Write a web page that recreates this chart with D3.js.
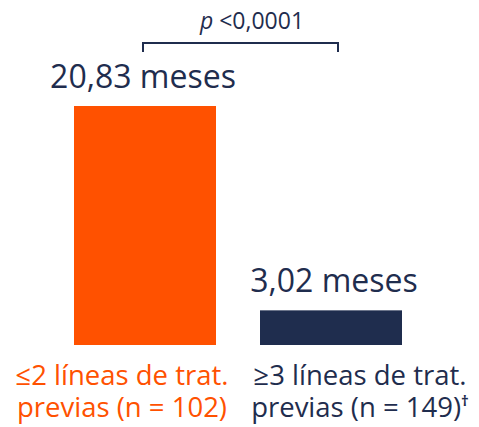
<!DOCTYPE html>
<html>
<head>
<meta charset="utf-8">
<script src="https://cdn.jsdelivr.net/npm/d3@7"></script>
<style>
  html, body { margin: 0; padding: 0; background: #fff; }
</style>
</head>
<body>
<div id="chart"></div>
<script>
// data
const groups = ["le2", "ge3"];
const values = [20.83, 3.02];
const valueLabels = ["20,83 meses", "3,02 meses"];
const catLine1 = ["\u22642 l\u00edneas de trat.", "\u22653 l\u00edneas de trat."];
const catLine2 = ["previas (n = 102)", "previas (n = 149)"];
const catSuffix = ["", "\u2020"];
const pLabel = "<0,0001";

const width = 479, height = 427;
const orange = "#ff5100", navy = "#1f2d4e";
const colors = [orange, navy];
const font = "'Open Sans', sans-serif";

const svg = d3.select("#chart").append("svg")
    .attr("width", width)
    .attr("height", height)
    .attr("font-family", font);

const x = d3.scaleBand()
    .domain(groups)
    .range([74, 402])
    .paddingInner(44 / 186)
    .paddingOuter(0);

const y = d3.scaleLinear()
    .domain([0, 20.83])
    .range([345, 106]);

// bars
svg.append("g")
  .selectAll("rect")
  .data(values)
  .join("rect")
    .attr("x", (d, i) => x(groups[i]))
    .attr("y", d => y(d))
    .attr("width", x.bandwidth())
    .attr("height", d => y(0) - y(d))
    .attr("fill", (d, i) => colors[i]);

// value labels
const valShift = [-2, 3];
svg.append("g")
  .selectAll("text")
  .data(values)
  .join("text")
    .attr("x", (d, i) => x(groups[i]) + x.bandwidth() / 2 + valShift[i])
    .attr("y", d => y(d) - 18)
    .attr("text-anchor", "middle")
    .attr("font-size", 32)
    .attr("fill", navy)
    .text((d, i) => valueLabels[i]);

// category labels (offset from bar centre like the original), one text per line
const catShift = [-23, 29];
const cx = (d, i) => x(d) + x.bandwidth() / 2 + catShift[i];

svg.append("g")
  .selectAll("text")
  .data(groups)
  .join("text")
    .attr("x", cx)
    .attr("y", 385)
    .attr("text-anchor", "middle")
    .attr("font-size", 27.5)
    .attr("fill", (d, i) => colors[i])
    .text((d, i) => catLine1[i]);

const line2 = svg.append("g")
  .selectAll("text")
  .data(groups)
  .join("text")
    .attr("x", cx)
    .attr("y", 417)
    .attr("text-anchor", "middle")
    .attr("font-size", 27.5)
    .attr("fill", (d, i) => colors[i]);
line2.append("tspan")
    .text((d, i) => catLine2[i]);
line2.append("tspan")
    .attr("dy", -11)
    .attr("font-size", 15)
    .attr("font-weight", "bold")
    .text((d, i) => catSuffix[i]);

// significance bracket
const bx0 = 143, bx1 = 338, by = 43;
svg.append("path")
    .attr("d", `M${bx0},${by + 9}V${by}H${bx1}V${by + 9}`)
    .attr("fill", "none")
    .attr("stroke", navy)
    .attr("stroke-width", 2);

const pt = svg.append("text")
    .attr("x", 252)
    .attr("y", 29)
    .attr("text-anchor", "middle")
    .attr("font-size", 23)
    .attr("fill", navy);
pt.append("tspan").attr("font-style", "italic").text("p");
pt.append("tspan").text(" " + pLabel);
</script>
</body>
</html>
